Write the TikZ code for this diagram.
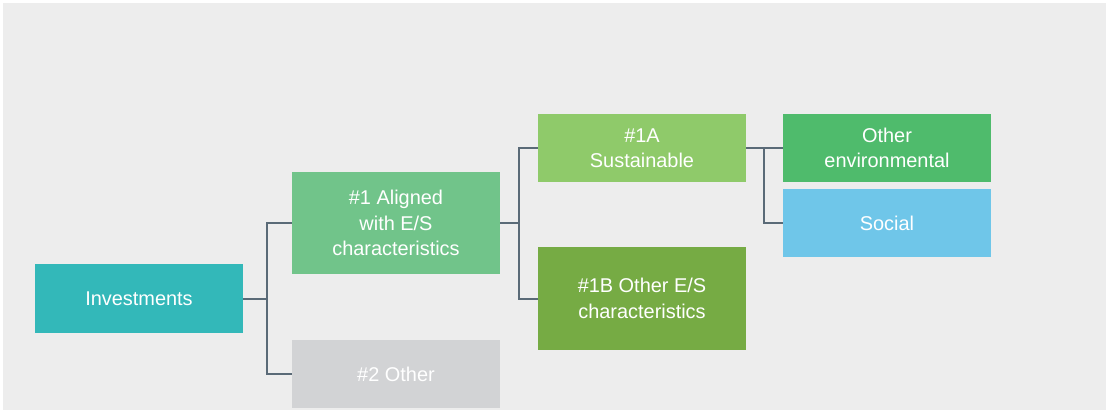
\documentclass[tikz,border=0pt]{standalone}
\usepackage{fontspec}
\setmainfont{Liberation Sans}
\definecolor{bgc}{HTML}{EDEDED}
\definecolor{cinv}{HTML}{33B8B9}
\definecolor{cal}{HTML}{71C48A}
\definecolor{cone}{HTML}{8FCA6A}
\definecolor{conb}{HTML}{76AB44}
\definecolor{cenv}{HTML}{4FBB6C}
\definecolor{csoc}{HTML}{6FC6E9}
\definecolor{coth}{HTML}{D2D3D5}
\definecolor{cline}{HTML}{5A6A77}
\tikzset{
  box/.style={draw=none, inner sep=0pt, text=white, align=center,
    font=\fontsize{20}{25.5}\selectfont, minimum width=208bp},
  conn/.style={draw=cline, line width=2bp}
}
\begin{document}
\begin{tikzpicture}[x=1bp,y=-1bp]
\useasboundingbox (0,0) rectangle (1106,410);
\fill[white] (0,0) rectangle (1106,410);
\fill[bgc] (3,3) rectangle (1106,410);
\node[box, fill=cinv, minimum height=69bp] (inv) at (139,298.5) {Investments};
\node[box, fill=cal, minimum height=102bp] (al) at (396,223) {\#1 Aligned\\with E/S\\characteristics};
\node[box, fill=coth, minimum height=68bp] (oth) at (396,374) {\#2 Other};
\node[box, fill=cone, minimum height=68bp] (sa) at (642,148) {\#1A\\Sustainable};
\node[box, fill=conb, minimum height=103bp] (sb) at (642,298.5) {\#1B Other E/S\\characteristics};
\node[box, fill=cenv, minimum height=68bp] (env) at (887,148) {Other\\environmental};
\node[box, fill=csoc, minimum height=68bp] (soc) at (887,223) {Social};
\draw[conn] (inv.east) -- ++(24,0);
\draw[conn] (al.west) -- ++(-25,0) |- (oth.west);
\draw[conn] (sa.west) -- ++(-19,0) coordinate (j2) |- (sb.west);
\draw[conn] (al.east) -- (al.east -| j2);
\draw[conn] (sa.east) -- (env.west);
\draw[conn] (env.west) ++(-19,0) |- (soc.west);
\end{tikzpicture}
\end{document}
